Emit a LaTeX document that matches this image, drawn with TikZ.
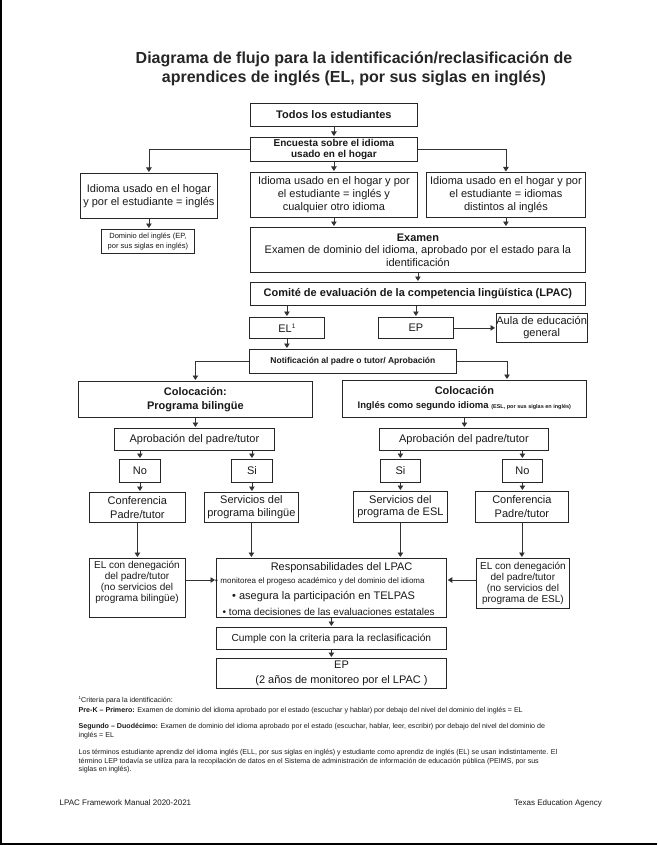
\documentclass[tikz,border=0pt]{standalone}
\usepackage{fontspec}
\setmainfont{Liberation Sans}
\usetikzlibrary{arrows.meta}
\newcommand{\fs}[2]{\fontsize{#1}{#2}\selectfont}
\newcommand{\supone}[2]{\raisebox{#1}{\fs{#2}{#2}1}}
\begin{document}
\begin{tikzpicture}[x=1pt,y=-1pt,
  box/.style={draw=black!85,line width=0.8pt,inner sep=0pt,align=center,anchor=north west,text=black!90},
  arr/.style={draw=black!80,line width=0.8pt,-{Triangle[width=5.5pt,length=4.5pt]},shorten >=1pt},
  tx/.style={inner sep=0pt,align=center,text=black!90},
  fa/.style={font=\fs{11}{12.6}},
  fb/.style={font=\bfseries\fs{11}{14}},
  fn/.style={tx,anchor=base west,font=\fs{7.1}{8.5}},
]
\fill[white] (0,0) rectangle (657,845);
\useasboundingbox (0,0) rectangle (657,845);
\draw[line width=2pt] (1,0) -- (1,845);
\draw[line width=2pt] (0,844) -- (657,844);

\node[tx,font=\bfseries\fs{16}{19},text=black!85] (title) at (354,69) {Diagrama de flujo para la identificación/reclasificación de\\aprendices de inglés (EL, por sus siglas en inglés)};

\node[box,fb,minimum width=167pt,minimum height=23pt] (todos) at (250,103) {Todos los estudiantes};
\node[box,font=\bfseries\fs{10}{11.5},minimum width=167pt,minimum height=24pt] (enc) at (250,137) {Encuesta sobre el idioma\\usado en el hogar};
\node[box,fa,minimum width=137pt,minimum height=45pt] (lefta) at (80,173) {Idioma usado en el hogar\\y por el estudiante = inglés};
\node[box,font=\fs{11}{12.8},minimum width=167pt,minimum height=45pt] (mida) at (250,172) {Idioma usado en el hogar y por\\el estudiante = inglés y\\cualquier otro idioma};
\node[box,font=\fs{11}{12.8},minimum width=159pt,minimum height=44pt] (righta) at (426,172.5) {Idioma usado en el hogar y por\\el estudiante = idiomas\\distintos al inglés};
\node[box,font=\fs{7.5}{10},minimum width=93pt,minimum height=24pt] (dom) at (101,229) {Dominio del inglés (EP,\\por sus siglas en inglés)};
\node[box,font=\fs{11}{12.5},minimum width=335pt,minimum height=45pt] (exam) at (250,227) {\textbf{Examen}\\Examen de dominio del idioma, aprobado por el estado para la\\identificación};
\node[box,fb,minimum width=335pt,minimum height=23pt] (comite) at (250,282) {Comité de evaluación de la competencia lingüística (LPAC)};
\node[box,fa,minimum width=75pt,minimum height=21pt] (el) at (249,317) {EL\supone{4pt}{6.5}};
\node[box,fa,minimum width=75pt,minimum height=21pt] (ep) at (378,317) {EP};
\node[box,font=\fs{11}{11.8},minimum width=88pt,minimum height=29pt] (aula) at (496,313) {Aula de educación\\general};
\node[box,font=\bfseries\fs{8.5}{10},minimum width=207pt,minimum height=24pt] (notif) at (249,349) {Notificación al padre o tutor/ Aprobación};
\node[box,font=\bfseries\fs{11}{14},minimum width=234pt,minimum height=36pt] (coll) at (78,381) {Colocación:\\Programa bilingüe};
\node[box,font=\bfseries\fs{11}{14},minimum width=244pt,minimum height=37pt] (colr) at (342,380) {Colocación\\{\fs{9.5}{11}Inglés como segundo idioma {\fs{5.5}{6}(ESL, por sus siglas en inglés)}}};
\node[box,fa,minimum width=160pt,minimum height=22pt] (aprl) at (114,428) {Aprobación del padre/tutor};
\node[box,fa,minimum width=169pt,minimum height=22pt] (aprr) at (379,428) {Aprobación del padre/tutor};
\node[box,fa,minimum width=41pt,minimum height=23pt] (nol) at (119,459) {No};
\node[box,fa,minimum width=41pt,minimum height=23pt] (sil) at (231,459) {Si};
\node[box,fa,minimum width=40pt,minimum height=23pt] (sir) at (380,459) {Si};
\node[box,fa,minimum width=40pt,minimum height=23pt] (nor) at (502,459) {No};
\node[box,font=\fs{11}{14},minimum width=96pt,minimum height=30pt] (confl) at (89,492) {Conferencia\\Padre/tutor};
\node[box,font=\fs{11}{12.5},minimum width=94pt,minimum height=30pt] (servl) at (204,492) {Servicios del\\programa bilingüe};
\node[box,font=\fs{11}{12.5},minimum width=94pt,minimum height=31pt] (servr) at (353,491) {Servicios del\\programa de ESL};
\node[box,font=\fs{11}{14},minimum width=93pt,minimum height=31pt] (confr) at (475,491) {Conferencia\\Padre/tutor};
\node[box,minimum width=96pt,minimum height=59pt] (denl) at (89,558) {};
\node[tx,font=\fs{10}{11.2}] (denlt) at (137,582.5) {EL con denegación\\del padre/tutor\\(no servicios del\\programa bilingüe)};
\node[box,font=\fs{10}{10.9},minimum width=93pt,minimum height=50pt] (denr) at (476,558) {EL con denegación\\del padre/tutor\\(no servicios del\\programa de ESL)};
\node[box,minimum width=230pt,minimum height=59pt] (resp) at (216,558) {};
\node[tx,font=\fs{11}{13},anchor=base] (rt1) at (341.6,570.7) {Responsabilidades del LPAC};
\node[tx,font=\fs{8}{9},anchor=base west] (rt2) at (215,583) {•\hspace{2.5pt}monitorea el progeso académico y del dominio del idioma};
\node[tx,font=\fs{11}{13},anchor=base west] (rt3) at (232,599.5) {• asegura la participación en TELPAS};
\node[tx,font=\fs{10}{12},anchor=base west] (rt4) at (222.5,615) {• toma decisiones de las evaluaciones estatales};
\node[box,font=\fs{10.2}{12},minimum width=230pt,minimum height=22pt] (cumple) at (216,627) {Cumple con la criteria para la reclasificación};
\node[box,minimum width=230pt,minimum height=30pt] (epf) at (216,658) {};
\node[tx,font=\fs{11}{14.5}] (epft) at (341.5,673.5) {EP\\(2 años de monitoreo por el LPAC )};

\draw[arr] (todos.south) -- (enc.north);
\draw[arr] (enc.west) -| (lefta.north);
\draw[arr] (enc.south) -- (mida.north);
\draw[arr] (enc.east) -| (righta.north);
\draw[arr] (lefta.south) -- (lefta.south |- dom.north);
\draw[arr] (mida.south) -- (mida.south |- exam.north);
\draw[arr] (righta.south) -- (righta.south |- exam.north);
\draw[arr] (exam.south) -- (exam.south |- comite.north);
\draw[arr] (comite.south -| el.north) -- (el.north);
\draw[arr] (comite.south -| ep.north) -- (ep.north);
\draw[arr] (ep.east) -- (ep.east -| aula.west);
\draw[arr] (el.south) -- (el.south |- notif.north);
\draw[arr] (notif.west) -| (coll.north);
\coordinate (br) at (507,361);
\draw[arr] (notif.east) -| (br |- colr.north);
\draw[arr] (coll.south) -- (coll.south |- aprl.north);
\draw[arr] (colr.south) -- (colr.south |- aprr.north);
\draw[arr] (aprl.south -| nol.north) -- (nol.north);
\draw[arr] (aprl.south -| sil.north) -- (sil.north);
\draw[arr] (aprr.south -| sir.north) -- (sir.north);
\draw[arr] (aprr.south -| nor.north) -- (nor.north);
\draw[arr] (nol.south) -- (nol.south |- confl.north);
\draw[arr] (sil.south) -- (sil.south |- servl.north);
\draw[arr] (sir.south) -- (sir.south |- servr.north);
\draw[arr] (nor.south) -- (nor.south |- confr.north);
\draw[arr] (confl.south) -- (confl.south |- denl.north);
\draw[arr] (servl.south) -- (servl.south |- resp.north);
\draw[arr] (servr.south) -- (servr.south |- resp.north);
\draw[arr] (confr.south) -- (confr.south |- denr.north);
\coordinate (ya) at (0,580);
\draw[arr] (denl.east |- ya) -- (resp.west |- ya);
\draw[arr] (denr.west |- ya) -- (resp.east |- ya);
\draw[arr] (resp.south) -- (resp.south |- cumple.north);
\draw[arr] (cumple.south) -- (cumple.south |- epf.north);

\node[fn] (fn1) at (78.5,702) {\supone{2.5pt}{4.5}Criteria para la identificación:};
\node[fn] (fn2) at (78.5,712) {\textbf{Pre-K – Primero:} Examen de dominio del idioma aprobado por el estado (escuchar y hablar) por debajo del nivel del dominio del inglés = EL};
\node[fn] (fn3) at (78.5,728) {\textbf{Segundo – Duodécimo:} Examen de dominio del idioma aprobado por el estado (escuchar, hablar, leer, escribir) por debajo del nivel del dominio de};
\node[fn] (fn4) at (78.5,737.5) {inglés = EL};
\node[fn] (fn5) at (78.5,754.5) {Los términos estudiante aprendiz del idioma inglés (ELL, por sus siglas en inglés) y estudiante como aprendiz de inglés (EL) se usan indistintamente. El};
\node[fn] (fn6) at (78.5,763) {término LEP todavía se utiliza para la recopilación de datos en el Sistema de administración de información de educación pública (PEIMS, por sus};
\node[fn] (fn7) at (78.5,771.5) {siglas en inglés).};
\node[tx,anchor=base west,font=\fs{8}{9}] (foot1) at (59.5,805) {LPAC Framework Manual 2020-2021};
\node[tx,anchor=base east,font=\fs{8}{9}] (foot2) at (602,805) {Texas Education Agency};
\end{tikzpicture}
\end{document}
